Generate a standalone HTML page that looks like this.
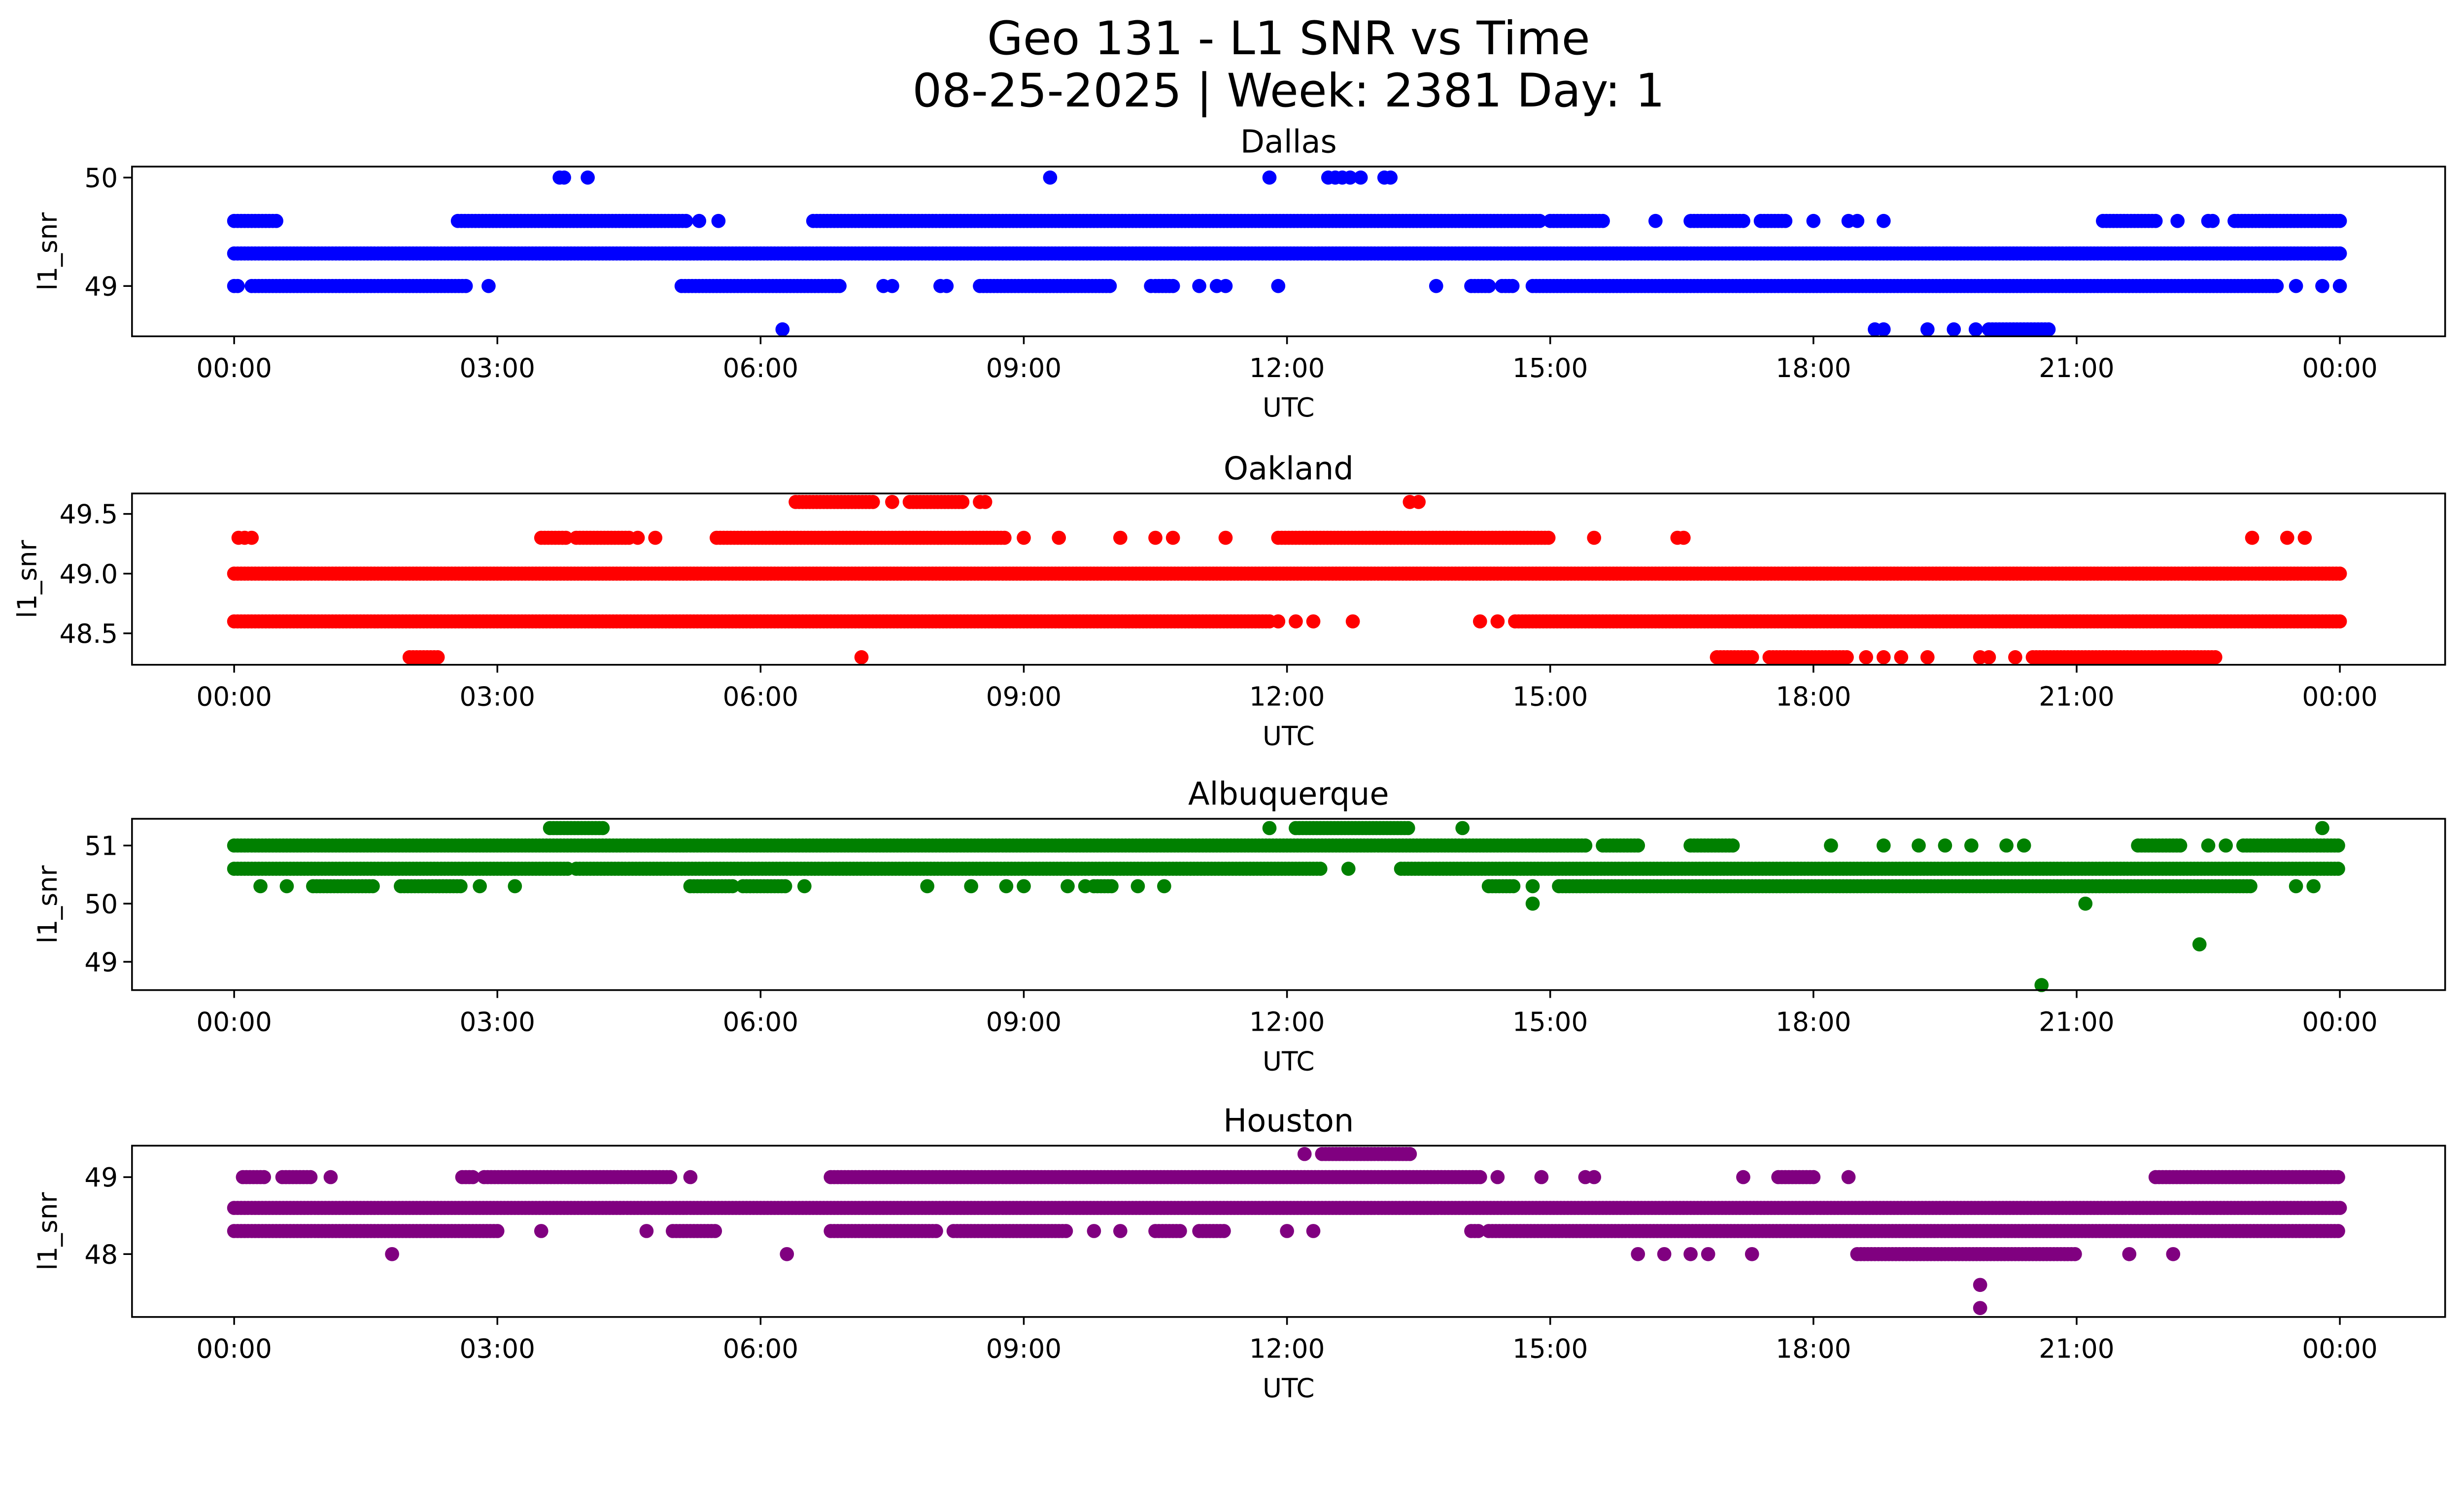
<!DOCTYPE html>
<html><head><meta charset="utf-8"><style>html,body{margin:0;padding:0;background:#fff;overflow:hidden}svg{display:block;position:absolute;left:0;top:0;width:100vw;height:57.4541vw}</style></head>
<body>
<svg id="fig" xmlns="http://www.w3.org/2000/svg" viewBox="0 0 1568 901" preserveAspectRatio="none" font-family="'DejaVu Sans','Liberation Sans',sans-serif">
<rect width="1568" height="901" fill="#fff"/>
<g id="root">
<text x="820" y="34.5" text-anchor="middle" font-size="29.5">Geo 131 - L1 SNR vs Time</text>
<text x="820" y="67.8" text-anchor="middle" font-size="29.5">08-25-2025 | Week: 2381 Day: 1</text>
</g>
</svg>
<script>
// ---- data (hours UTC, SNR values) ----
const xTicks = [0,3,6,9,12,15,18,21,24];
const xTickLabels = ["00:00","03:00","06:00","09:00","12:00","15:00","18:00","21:00","00:00"];
const dallasRuns = [[49.3,0,24],[49.6,0,0.5],[49.6,2.55,5.15],[49.6,6.6,14.9],[49.6,15.0,15.6],[49.6,16.6,17.2],[49.6,17.4,17.7],[49.6,21.3,21.9],[49.6,22.8,24],
 [49.0,0,0.05],[49.0,0.2,2.65],[49.0,5.1,6.9],[49.0,8.5,10.0],[49.0,10.5,10.7],[49.0,14.1,14.3],[49.0,14.45,14.6],[49.0,14.8,23.3],[48.6,20.0,20.7]];
const dallasPts = [[50,3.71],[50,3.76],[50,4.03],[50,9.3],[50,11.8],[50,12.47],[50,12.55],[50,12.63],[50,12.72],[50,12.84],[50,13.11],[50,13.18],
 [49.6,5.3],[49.6,5.52],[49.6,16.2],[49.6,18.0],[49.6,18.4],[49.6,18.5],[49.6,18.8],[49.6,22.15],[49.6,22.5],[49.6,22.55],[49.6,23.2],
 [49.0,2.9],[49.0,7.4],[49.0,7.5],[49.0,8.05],[49.0,8.12],[49.0,10.45],[49.0,11.0],[49.0,11.2],[49.0,11.3],[49.0,11.9],[49.0,13.7],[49.0,23.5],[49.0,23.8],[49.0,24],
 [48.6,6.25],[48.6,18.7],[48.6,18.8],[48.6,19.3],[48.6,19.6],[48.6,19.85]];
const oaklandRuns = [[49.0,0,24],[48.6,0,11.8],[48.6,14.6,24],[49.6,6.4,7.3],[49.6,7.7,8.3],[49.3,3.5,3.8],[49.3,3.9,4.5],[49.3,5.5,8.8],[49.3,11.9,15.0],
 [48.3,2.0,2.35],[48.3,16.9,17.3],[48.3,17.5,18.4],[48.3,20.5,22.6]];
const oaklandPts = [[49.6,7.5],[49.6,8.5],[49.6,8.56],[49.6,13.4],[49.6,13.5],[49.3,0.05],[49.3,0.12],[49.3,0.2],[49.3,4.6],[49.3,4.8],[49.3,9.0],[49.3,9.4],[49.3,10.1],[49.3,10.5],[49.3,10.7],[49.3,11.3],[49.3,15.5],[49.3,16.45],[49.3,16.52],[49.3,23.0],[49.3,23.4],[49.3,23.6],
 [48.6,11.9],[48.6,12.1],[48.6,12.3],[48.6,12.75],[48.6,14.2],[48.6,14.4],[48.3,7.15],[48.3,18.6],[48.3,18.8],[48.3,19.0],[48.3,19.3],[48.3,19.9],[48.3,20.0],[48.3,20.3]];
const albuqRuns = [[51.0,0,15.4],[51.0,15.6,16.0],[51.0,16.6,17.1],[51.0,21.7,22.2],[51.0,22.9,24],[50.6,0,3.8],[50.6,3.9,12.4],[50.6,13.3,24],[51.3,3.6,4.2],[51.3,12.1,13.4],
 [50.3,0.9,1.6],[50.3,1.9,2.6],[50.3,5.2,5.7],[50.3,5.8,6.3],[50.3,9.8,10.0],[50.3,14.3,14.6],[50.3,15.1,23.0]];
const albuqPts = [[51.3,11.8],[51.3,14.0],[51.3,23.8],[51.0,18.2],[51.0,18.8],[51.0,19.2],[51.0,19.5],[51.0,19.8],[51.0,20.2],[51.0,20.4],[51.0,22.5],[51.0,22.7],[50.6,12.7],
 [50.3,0.3],[50.3,0.6],[50.3,2.8],[50.3,3.2],[50.3,6.5],[50.3,7.9],[50.3,8.4],[50.3,8.8],[50.3,9.0],[50.3,9.5],[50.3,9.7],[50.3,10.3],[50.3,10.6],[50.3,14.8],[50.3,23.5],[50.3,23.7],
 [50.0,14.8],[50.0,21.1],[49.3,22.4],[48.6,20.6]];
const houstonRuns = [[48.6,0,24],[49.0,0.1,0.35],[49.0,0.55,0.9],[49.0,2.6,2.75],[49.0,2.85,5.0],[49.0,6.8,14.2],[49.0,17.6,18.0],[49.0,21.9,24],[49.3,12.4,13.4],
 [48.3,0,3.0],[48.3,5.0,5.5],[48.3,6.8,8.0],[48.3,8.2,9.5],[48.3,10.5,10.8],[48.3,11.0,11.3],[48.3,14.1,14.2],[48.3,14.3,24],[48.0,18.5,21.0]];
const houstonPts = [[49.3,12.2],[49.0,1.1],[49.0,5.2],[49.0,14.4],[49.0,14.9],[49.0,15.4],[49.0,15.5],[49.0,17.2],[49.0,18.4],[48.3,3.5],[48.3,4.7],[48.3,9.8],[48.3,10.1],[48.3,12.0],[48.3,12.3],
 [48.0,1.8],[48.0,6.3],[48.0,16.0],[48.0,16.3],[48.0,16.6],[48.0,16.8],[48.0,17.3],[48.0,21.6],[48.0,22.1],[47.6,19.9],[47.3,19.9]];
const dallasTicks=[49,50], oaklandTicks=[48.5,49.0,49.5], albuqTicks=[49,50,51], houstonTicks=[48,49];

const root=document.getElementById('root');
const NS='http://www.w3.org/2000/svg';
function mk(t,a,p){const e=document.createElementNS(NS,t);for(const k in a)e.setAttribute(k,a[k]);(p||root).appendChild(e);return e;}
const X0=84,X1=1556,H0=149,HS=(1489-149)/24;
const xs=h=>H0+h*HS;

function panel(key,title,top,bot,yA,vA,yB,vB,ticks,fmt,color,runs,pts,ylx){
  const ys=v=>yA+(v-vA)*(yB-yA)/(vB-vA);
  const g=mk('g',{});
  
  
  const t=mk('text',{x:(X0+X1)/2,y:top-9,'text-anchor':'middle','font-size':'20'},g);t.textContent=title;
  
  
  const pg=mk('g',{fill:color},g);
  
  
  runs.forEach(r=>{for(let h=r[1];h<=r[2]+1e-9;h+=0.04){const c=mk('circle',{cx:xs(h),cy:ys(r[0]),r:4.5},pg);
    
    }});
  pts.forEach(p=>{const c=mk('circle',{cx:xs(p[1]),cy:ys(p[0]),r:4.5},pg);
    
    });
  const fr=mk('rect',{x:X0,y:top,width:X1-X0,height:bot-top,fill:'none',stroke:'#000','stroke-width':1.1},g);
  
  
  xTicks.forEach((h,i)=>{mk('line',{x1:xs(h),x2:xs(h),y1:bot,y2:bot+5,stroke:'#000','stroke-width':1.1},g);
    const l=mk('text',{x:xs(h),y:bot+26,'text-anchor':'middle','font-size':'16.7'},g);l.textContent=xTickLabels[i];
    
    });
  ticks.forEach(v=>{mk('line',{x1:X0-5.5,x2:X0,y1:ys(v),y2:ys(v),stroke:'#000','stroke-width':1.1},g);
    const l=mk('text',{x:X0-9,y:ys(v)+6,'text-anchor':'end','font-size':'16.7'},g);l.textContent=fmt(v);
    
    });
  const xl=mk('text',{x:(X0+X1)/2,y:bot+51,'text-anchor':'middle','font-size':'16.7'},g);xl.textContent='UTC';
  
  
  const cy=(top+bot)/2;
  const yl=mk('text',{x:0,y:0,'text-anchor':'middle','font-size':'16.7',transform:`translate(${ylx},${cy}) rotate(-90)`},g);yl.textContent='l1_snr';
  
  
}
panel('dallas','Dallas',106,214,113,50,182,49,dallasTicks,v=>String(v),'#0000ff',dallasRuns,dallasPts,36);
panel('oakland','Oakland',314,423,327,49.5,403,48.5,oaklandTicks,v=>v.toFixed(1),'#ff0000',oaklandRuns,oaklandPts,23);
panel('albuquerque','Albuquerque',521,630,538,51,612,49,albuqTicks,v=>String(v),'#008000',albuqRuns,albuqPts,36);
panel('houston','Houston',729,838,749,49,798,48,houstonTicks,v=>String(v),'#800080',houstonRuns,houstonPts,36);
</script>
</body></html>
